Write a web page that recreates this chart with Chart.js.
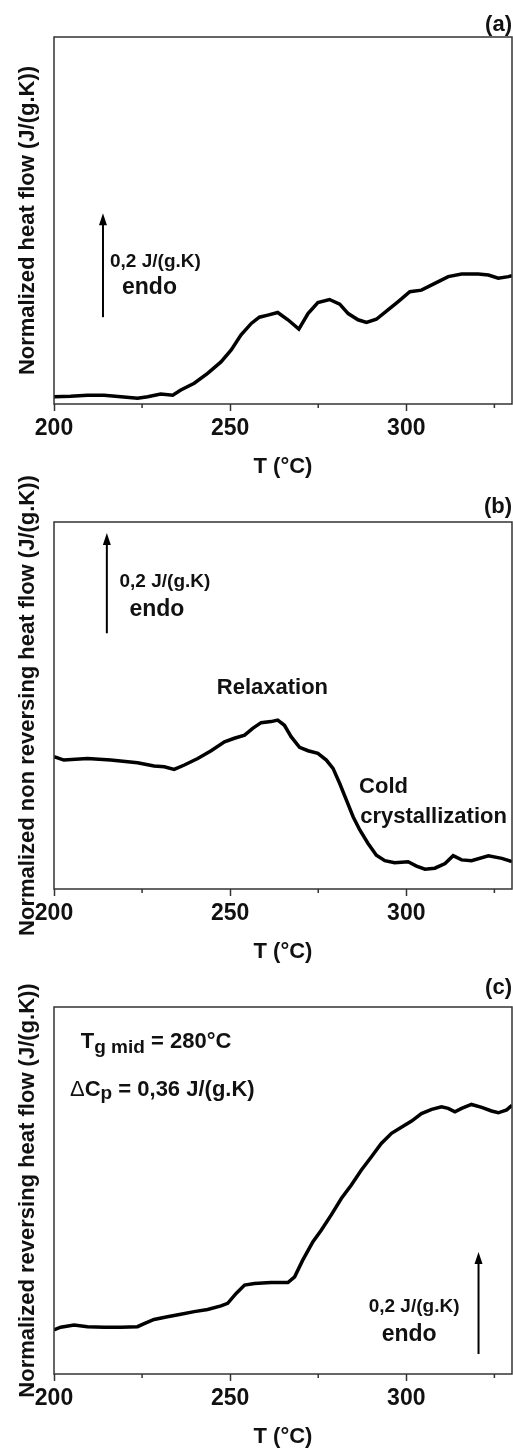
<!DOCTYPE html>
<html>
<head>
    <title>MDSC heat flow</title>
    <style>
        body {
            margin: 0;
            background-color: #fff;
            width: 513px;
            height: 1452px;
            position: relative;
            overflow: hidden;
        }

        .panel {
            position: absolute;
            left: 0;
            width: 513px;
        }
    </style>
</head>
<body>
    <div class="panel" style="top: 0; height: 484px;"><canvas id="chartA"></canvas></div>
    <div class="panel" style="top: 462px; height: 507px;"><canvas id="chartB"></canvas></div>
    <div class="panel" style="top: 947px; height: 505px;"><canvas id="chartC"></canvas></div>

    <script src="https://cdn.jsdelivr.net/npm/chart.js"></script>
    <script>
const xTicks = [200, 250, 300];
const xMinorTicks = [225, 275, 325];

// (a) total heat flow, J/(g.K) above the bottom of the frame
const tempA = [200, 204.7, 209.5, 214.2, 219, 223.7, 226.6, 230.3, 233.7, 236, 239.8, 243.6, 247.4, 250.3, 253.1, 256, 258.3, 260.7, 263.5, 266.4, 269.5, 272.1, 274.9, 278.2, 281.1, 283.5, 286.3, 288.7, 291.5, 294.8, 297.7, 301, 304.3, 308.1, 311.9, 315.7, 320.4, 323.3, 326.1, 329, 330];
const heatFlowA = [0.014, 0.015, 0.017, 0.017, 0.014, 0.011, 0.014, 0.019, 0.017, 0.027, 0.040, 0.059, 0.081, 0.104, 0.133, 0.155, 0.167, 0.171, 0.176, 0.162, 0.144, 0.174, 0.195, 0.201, 0.192, 0.174, 0.162, 0.157, 0.163, 0.181, 0.197, 0.216, 0.219, 0.232, 0.245, 0.250, 0.250, 0.248, 0.242, 0.245, 0.247];

// (b) non reversing heat flow
const tempB = [200, 202.8, 209.5, 216.1, 223.7, 228.4, 231.3, 234.1, 237, 240.8, 244.6, 248.4, 251.2, 254.1, 256.4, 258.8, 261.6, 263.5, 265.4, 267.3, 269.7, 272.1, 274.9, 277.3, 279.2, 281.1, 283, 284.9, 286.8, 289.1, 291.5, 293.9, 296.7, 300.5, 302.9, 305.3, 308.1, 311, 313.3, 315.7, 318.5, 323.3, 327.1, 330];
const nonRevHeatFlowB = [0.2545, 0.248, 0.251, 0.248, 0.243, 0.2365, 0.235, 0.230, 0.2385, 0.251, 0.266, 0.283, 0.290, 0.296, 0.309, 0.320, 0.322, 0.325, 0.315, 0.293, 0.2725, 0.266, 0.261, 0.248, 0.232, 0.203, 0.171, 0.139, 0.1135, 0.088, 0.065, 0.0545, 0.0505, 0.0525, 0.044, 0.038, 0.040, 0.049, 0.064, 0.056, 0.0545, 0.064, 0.059, 0.0525];

// (c) reversing heat flow
const tempC = [200, 201.9, 205.7, 209.5, 214.2, 219, 223.7, 225.6, 228.4, 232.2, 236, 239.8, 243.6, 247.4, 249.3, 251.7, 254.1, 256.9, 261.6, 266.4, 268.3, 270.6, 273.5, 275.9, 278.7, 281.6, 284.4, 287.2, 290.1, 292.9, 295.8, 298.6, 301.5, 304.3, 307.2, 310, 311.9, 313.8, 315.7, 318.5, 321.4, 324.2, 326.1, 328.5, 330];
const revHeatFlowC = [0.085, 0.090, 0.094, 0.091, 0.090, 0.090, 0.091, 0.097, 0.105, 0.110, 0.115, 0.120, 0.124, 0.131, 0.136, 0.155, 0.171, 0.174, 0.176, 0.176, 0.187, 0.219, 0.2545, 0.277, 0.306, 0.338, 0.3635, 0.392, 0.418, 0.4435, 0.463, 0.4745, 0.4865, 0.501, 0.509, 0.514, 0.511, 0.5045, 0.511, 0.5185, 0.513, 0.506, 0.5025, 0.508, 0.517];

const textColor = '#111';
const axisColor = '#333';
const fontFamily = "'Liberation Sans', Arial, sans-serif";

Chart.defaults.font.family = fontFamily;

const framePlugin = {
  id: 'frame',
  afterDraw(chart) {
    const ctx = chart.ctx;
    const a = chart.chartArea;
    const x = chart.scales.x;
    ctx.save();
    ctx.strokeStyle = axisColor;
    ctx.lineWidth = 1.5;
    ctx.strokeRect(a.left, a.top, a.right - a.left, a.bottom - a.top);
    xMinorTicks.forEach(v => {
      const px = x.getPixelForValue(v);
      ctx.beginPath();
      ctx.moveTo(px, a.bottom);
      ctx.lineTo(px, a.bottom + 4);
      ctx.stroke();
    });
    ctx.restore();
  }
};

function drawArrow(ctx, px, py0, py1) {
  ctx.strokeStyle = '#000';
  ctx.fillStyle = '#000';
  ctx.lineWidth = 2;
  ctx.beginPath();
  ctx.moveTo(px, py0);
  ctx.lineTo(px, py1 + 8);
  ctx.stroke();
  ctx.beginPath();
  ctx.moveTo(px, py1);
  ctx.lineTo(px - 4, py1 + 12);
  ctx.lineTo(px + 4, py1 + 12);
  ctx.closePath();
  ctx.fill();
}

function drawText(ctx, px, py, note) {
  const parts = note.parts || [{ text: note.text, size: note.size }];
  const widths = parts.map(p => {
    ctx.font = (p.weight || 'bold') + ' ' + p.size + 'px ' + fontFamily;
    return ctx.measureText(p.text).width;
  });
  const total = widths.reduce((s, w) => s + w, 0);
  let cx = note.align === 'center' ? px - total / 2 : px;
  ctx.fillStyle = textColor;
  ctx.textAlign = 'left';
  ctx.textBaseline = note.baseline || 'middle';
  parts.forEach((p, i) => {
    ctx.font = (p.weight || 'bold') + ' ' + p.size + 'px ' + fontFamily;
    ctx.fillText(p.text, cx, py + (p.dy || 0));
    cx += widths[i];
  });
}

function makePanel(id, label, yTitle, temps, values, layout, notes) {
  const notesPlugin = {
    id: 'notes',
    afterDraw(chart) {
      const ctx = chart.ctx;
      const x = chart.scales.x;
      const y = chart.scales.y;
      ctx.save();
      notes.forEach(n => {
        if (n.arrow) {
          drawArrow(ctx, x.getPixelForValue(n.t), y.getPixelForValue(n.from), y.getPixelForValue(n.to));
        } else {
          drawText(ctx, x.getPixelForValue(n.t), y.getPixelForValue(n.v), n);
        }
      });
      ctx.restore();
    }
  };

  return new Chart(document.getElementById(id), {
    type: 'line',
    data: {
      datasets: [{
        data: temps.map((t, i) => ({ x: t, y: values[i] })),
        borderColor: '#000',
        borderWidth: 3.5,
        pointRadius: 0,
        tension: 0,
        fill: false
      }]
    },
    options: {
      responsive: true,
      maintainAspectRatio: false,
      animation: false,
      layout: { padding: { left: 0, right: 1, top: 0, bottom: 0 } },
      plugins: {
        legend: { display: false },
        tooltip: { enabled: false },
        title: {
          display: true,
          text: label,
          align: 'end',
          color: textColor,
          font: { size: 22, weight: 'bold', lineHeight: 1 },
          padding: { top: layout.labelTop, bottom: layout.labelBottom }
        }
      },
      scales: {
        x: {
          type: 'linear',
          min: 200,
          max: 330,
          afterBuildTicks: s => { s.ticks = xTicks.map(v => ({ value: v })); },
          afterFit: s => { s.height = layout.xHeight; },
          ticks: { color: textColor, font: { size: 23, weight: 'bold' }, padding: 4 },
          grid: { drawOnChartArea: false, tickLength: 7, tickColor: axisColor, tickWidth: 1.5 },
          border: { display: false },
          title: {
            display: true,
            text: 'T (°C)',
            color: textColor,
            font: { size: 22, weight: 'bold', lineHeight: 1.2 },
            padding: { top: 0, bottom: layout.xTitleBottom }
          }
        },
        y: {
          min: 0,
          max: 0.706,
          afterFit: s => { s.width = 54; },
          ticks: { display: false },
          grid: { display: false },
          border: { display: false },
          title: {
            display: true,
            text: yTitle,
            color: textColor,
            font: { size: 22, weight: 'bold', lineHeight: 1.2 },
            padding: { top: 15, bottom: 0 }
          }
        }
      }
    },
    plugins: [framePlugin, notesPlugin]
  });
}

makePanel('chartA', '(a)', 'Normalized heat flow (J/(g.K))', tempA, heatFlowA,
  { labelTop: 14, labelBottom: 1, xHeight: 80, xTitleBottom: 4 },
  [
    { arrow: true, t: 213.9, from: 0.167, to: 0.367 },
    { t: 215.9, v: 0.273, text: '0,2 J/(g.K)', size: 19 },
    { t: 219.3, v: 0.223, text: 'endo', size: 23 }
  ]);

makePanel('chartB', '(b)', 'Normalized non reversing heat flow (J/(g.K))', tempB, nonRevHeatFlowB,
  { labelTop: 34, labelBottom: 4, xHeight: 80, xTitleBottom: 4 },
  [
    { arrow: true, t: 215, from: 0.492, to: 0.685 },
    { t: 218.6, v: 0.591, text: '0,2 J/(g.K)', size: 19 },
    { t: 221.4, v: 0.537, text: 'endo', size: 23 },
    { t: 262, v: 0.386, text: 'Relaxation', size: 22, align: 'center' },
    { t: 286.6, v: 0.197, text: 'Cold', size: 22 },
    { t: 286.9, v: 0.139, text: 'crystallization', size: 22 }
  ]);

makePanel('chartC', '(c)', 'Normalized reversing heat flow (J/(g.K))', tempC, revHeatFlowC,
  { labelTop: 30, labelBottom: 8, xHeight: 78, xTitleBottom: 2 },
  [
    { arrow: true, t: 320.5, from: 0.0385, to: 0.2346 },
    { t: 302.2, v: 0.129, text: '0,2 J/(g.K)', size: 19, align: 'center' },
    { t: 300.8, v: 0.075, text: 'endo', size: 23, align: 'center' },
    { t: 207.6, v: 0.627, baseline: 'alphabetic', parts: [
      { text: 'T', size: 22 },
      { text: 'g mid', size: 19, dy: 5 },
      { text: ' = 280°C', size: 22 }
    ] },
    { t: 204.55, v: 0.5346, baseline: 'alphabetic', parts: [
      { text: 'Δ', size: 22, weight: 'normal' },
      { text: 'C', size: 22 },
      { text: 'p', size: 19, dy: 3 },
      { text: ' = 0,36 J/(g.K)', size: 22 }
    ] }
  ]);
    </script>
</body>
</html>
